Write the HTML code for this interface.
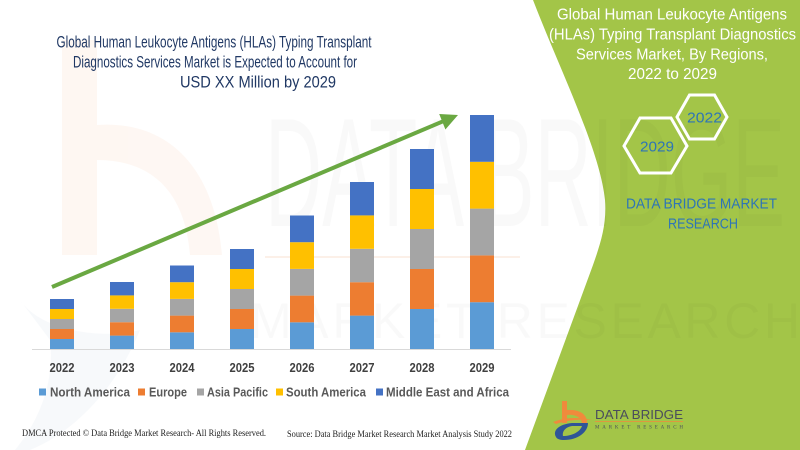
<!DOCTYPE html>
<html><head><meta charset="utf-8"><style>
html,body{margin:0;padding:0;background:#fff;}
svg{display:block;}
</style></head><body>
<svg width="800" height="450" viewBox="0 0 800 450" xmlns="http://www.w3.org/2000/svg">
<rect width="800" height="450" fill="#fff"/>
<!-- faint big b watermark -->
<g opacity="0.45">
<rect x="62" y="40" width="35" height="215" fill="#fdeee4"/>
<path d="M97,125 C170,120 215,170 222,255 L190,255 C185,190 150,160 97,160 Z" fill="#fdeee4"/>
<path d="M20,300 C40,330 100,340 140,330 C120,380 80,430 30,450 L15,450 C40,420 55,380 50,340 Z" fill="#eef2f7"/>
</g>
<!-- green panel -->
<path d="M533,0 C560,70 600,150 605,200 C607,225 600,245 593,265 L525,450 L800,450 L800,0 Z" fill="#a3c548"/>
<!-- watermark text -->
<text x="265" y="226" font-family="Liberation Sans, sans-serif" font-size="155" textLength="520" lengthAdjust="spacingAndGlyphs" fill="#000" opacity="0.018">DATA BRIDGE</text>
<text x="250" y="338" font-family="Liberation Sans, sans-serif" font-size="50" textLength="550" lengthAdjust="spacing" fill="#000" opacity="0.018">MARKET RESEARCH</text>
<line x1="265" y1="257" x2="520" y2="257" stroke="#fbe3d3" stroke-width="2" opacity="0.5"/>

<!-- left title -->
<g font-family="Liberation Sans, sans-serif" font-size="16.5" fill="#203864" text-anchor="middle">
<text x="214" y="47.5" textLength="315" lengthAdjust="spacingAndGlyphs">Global Human Leukocyte Antigens (HLAs) Typing Transplant</text>
<text x="215" y="67.5" textLength="284" lengthAdjust="spacingAndGlyphs">Diagnostics Services Market is Expected to Account for</text>
<text x="258" y="87.5" textLength="156" lengthAdjust="spacingAndGlyphs">USD XX Million by 2029</text>
</g>

<!-- right title -->
<g font-family="Liberation Sans, sans-serif" font-size="15.5" fill="#fff" text-anchor="middle">
<text x="672" y="19.5" textLength="230" lengthAdjust="spacingAndGlyphs">Global Human Leukocyte Antigens</text>
<text x="672.5" y="39.5" textLength="247" lengthAdjust="spacingAndGlyphs">(HLAs) Typing Transplant Diagnostics</text>
<text x="672" y="59.5" textLength="192" lengthAdjust="spacingAndGlyphs">Services Market, By Regions,</text>
<text x="672.5" y="79" textLength="89" lengthAdjust="spacingAndGlyphs">2022 to 2029</text>
</g>

<!-- hexagons -->
<polygon points="677,117 689.5,95 714.5,95 727,117 714.5,139 689.5,139" fill="none" stroke="#fff" stroke-width="3"/>
<polygon points="624,146 640,118 671,118 687,146 671,173 640,173" fill="none" stroke="#fff" stroke-width="3"/>
<g font-family="Liberation Sans, sans-serif" font-size="15" fill="#2e75b6" text-anchor="middle">
<text x="704.5" y="122.5" textLength="35" lengthAdjust="spacingAndGlyphs">2022</text>
<text x="657" y="151.5" textLength="34" lengthAdjust="spacingAndGlyphs">2029</text>
<text x="701.5" y="208.5" textLength="151" lengthAdjust="spacingAndGlyphs">DATA BRIDGE MARKET</text>
<text x="703" y="228.5" textLength="70" lengthAdjust="spacingAndGlyphs">RESEARCH</text>
</g>

<!-- axis -->
<line x1="32" y1="349.5" x2="511" y2="349.5" stroke="#d9d9d9" stroke-width="1"/>

<!-- bars -->
<g id="bars">
<rect x="50" y="339" width="24" height="10" fill="#5b9bd5"/>
<rect x="50" y="329" width="24" height="10" fill="#ed7d31"/>
<rect x="50" y="319" width="24" height="10" fill="#a5a5a5"/>
<rect x="50" y="309" width="24" height="10" fill="#ffc000"/>
<rect x="50" y="299" width="24" height="10" fill="#4472c4"/>
<rect x="110" y="335.6" width="24" height="13.4" fill="#5b9bd5"/>
<rect x="110" y="322.2" width="24" height="13.4" fill="#ed7d31"/>
<rect x="110" y="308.8" width="24" height="13.4" fill="#a5a5a5"/>
<rect x="110" y="295.4" width="24" height="13.4" fill="#ffc000"/>
<rect x="110" y="282" width="24" height="13.4" fill="#4472c4"/>
<rect x="170" y="332.3" width="24" height="16.7" fill="#5b9bd5"/>
<rect x="170" y="315.6" width="24" height="16.7" fill="#ed7d31"/>
<rect x="170" y="298.9" width="24" height="16.7" fill="#a5a5a5"/>
<rect x="170" y="282.2" width="24" height="16.7" fill="#ffc000"/>
<rect x="170" y="265.5" width="24" height="16.7" fill="#4472c4"/>
<rect x="230" y="329" width="24" height="20" fill="#5b9bd5"/>
<rect x="230" y="309" width="24" height="20" fill="#ed7d31"/>
<rect x="230" y="289" width="24" height="20" fill="#a5a5a5"/>
<rect x="230" y="269" width="24" height="20" fill="#ffc000"/>
<rect x="230" y="249" width="24" height="20" fill="#4472c4"/>
<rect x="290" y="322.3" width="24" height="26.7" fill="#5b9bd5"/>
<rect x="290" y="295.6" width="24" height="26.7" fill="#ed7d31"/>
<rect x="290" y="268.9" width="24" height="26.7" fill="#a5a5a5"/>
<rect x="290" y="242.2" width="24" height="26.7" fill="#ffc000"/>
<rect x="290" y="215.5" width="24" height="26.7" fill="#4472c4"/>
<rect x="350" y="315.6" width="24" height="33.4" fill="#5b9bd5"/>
<rect x="350" y="282.2" width="24" height="33.4" fill="#ed7d31"/>
<rect x="350" y="248.8" width="24" height="33.4" fill="#a5a5a5"/>
<rect x="350" y="215.4" width="24" height="33.4" fill="#ffc000"/>
<rect x="350" y="182" width="24" height="33.4" fill="#4472c4"/>
<rect x="410" y="309" width="24" height="40" fill="#5b9bd5"/>
<rect x="410" y="269" width="24" height="40" fill="#ed7d31"/>
<rect x="410" y="229" width="24" height="40" fill="#a5a5a5"/>
<rect x="410" y="189" width="24" height="40" fill="#ffc000"/>
<rect x="410" y="149" width="24" height="40" fill="#4472c4"/>
<rect x="470" y="302.2" width="24" height="46.8" fill="#5b9bd5"/>
<rect x="470" y="255.4" width="24" height="46.8" fill="#ed7d31"/>
<rect x="470" y="208.6" width="24" height="46.8" fill="#a5a5a5"/>
<rect x="470" y="161.8" width="24" height="46.8" fill="#ffc000"/>
<rect x="470" y="115" width="24" height="46.8" fill="#4472c4"/>
</g>

<!-- arrow -->
<line x1="52" y1="287" x2="443" y2="121.3" stroke="#6aa842" stroke-width="4"/>
<polygon points="458,115 445.4,129.5 439.2,114" fill="#6aa842"/>

<!-- year labels -->
<g font-family="Liberation Sans, sans-serif" font-size="12.5" font-weight="bold" fill="#404040" text-anchor="middle">
<text x="62" y="372" textLength="25" lengthAdjust="spacingAndGlyphs">2022</text>
<text x="122" y="372" textLength="25" lengthAdjust="spacingAndGlyphs">2023</text>
<text x="182" y="372" textLength="25" lengthAdjust="spacingAndGlyphs">2024</text>
<text x="242" y="372" textLength="25" lengthAdjust="spacingAndGlyphs">2025</text>
<text x="302" y="372" textLength="25" lengthAdjust="spacingAndGlyphs">2026</text>
<text x="362" y="372" textLength="25" lengthAdjust="spacingAndGlyphs">2027</text>
<text x="422" y="372" textLength="25" lengthAdjust="spacingAndGlyphs">2028</text>
<text x="482" y="372" textLength="25" lengthAdjust="spacingAndGlyphs">2029</text>
</g>

<!-- legend -->
<rect x="39" y="388.5" width="7" height="7" fill="#5b9bd5"/>
<rect x="138" y="388.5" width="7" height="7" fill="#ed7d31"/>
<rect x="197" y="388.5" width="7" height="7" fill="#a5a5a5"/>
<rect x="276" y="388.5" width="7" height="7" fill="#ffc000"/>
<rect x="376" y="388.5" width="7" height="7" fill="#4472c4"/>
<g font-family="Liberation Sans, sans-serif" font-size="12.5" font-weight="bold" fill="#595959">
<text x="50" y="396.5" textLength="80" lengthAdjust="spacingAndGlyphs">North America</text>
<text x="149" y="396.5" textLength="38" lengthAdjust="spacingAndGlyphs">Europe</text>
<text x="207" y="396.5" textLength="61" lengthAdjust="spacingAndGlyphs">Asia Pacific</text>
<text x="286" y="396.5" textLength="80" lengthAdjust="spacingAndGlyphs">South America</text>
<text x="386" y="396.5" textLength="123" lengthAdjust="spacingAndGlyphs">Middle East and Africa</text>
</g>

<!-- footer -->
<g font-family="Liberation Serif, serif" font-size="9" fill="#222">
<text x="22" y="436" textLength="244" lengthAdjust="spacingAndGlyphs">DMCA Protected © Data Bridge Market Research- All Rights Reserved.</text>
<text x="287" y="437" textLength="225" lengthAdjust="spacingAndGlyphs">Source: Data Bridge Market Research Market Analysis Study 2022</text>
</g>

<!-- logo -->
<g>
<rect x="562" y="401" width="5" height="22" fill="#f08a3c"/>
<path d="M567,410 C580,409 588,415 587,424 L582,424 C582,418 576,414 567,415 Z" fill="#f08a3c"/>
<path d="M553,422 C565,417 580,417 592,420 C580,419 568,420 556,424 Z" fill="#f08a3c"/>
<path d="M556,437 C552,430 560,424 572,423 L588,423 C588,432 578,440 564,440 C560,440 557,439 556,437 Z M563,436 C572,436 580,432 582,426 L572,426 C566,427 562,431 563,436 Z" fill="#2f5597" fill-rule="evenodd"/>
<text x="595" y="419" font-family="Liberation Sans, sans-serif" font-size="13" fill="#4a4d5c" textLength="88" lengthAdjust="spacingAndGlyphs">DATA BRIDGE</text>
<line x1="595" y1="421.5" x2="683" y2="421.5" stroke="#f08a3c" stroke-width="0.8"/>
<text x="595" y="428.5" font-family="Liberation Serif, serif" font-size="5" fill="#4a4d5c" textLength="88" lengthAdjust="spacing">MARKET RESEARCH</text>
</g>
</svg>
</body></html>
